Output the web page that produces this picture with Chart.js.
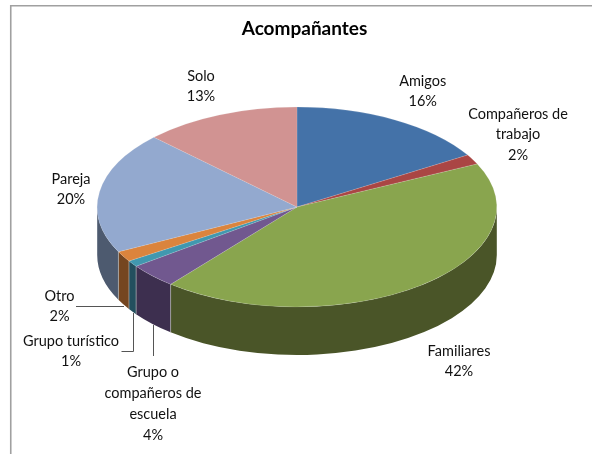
<!DOCTYPE html>
<html>
<head>
<meta charset="utf-8">
<style>html,body{margin:0;padding:0;background:#fff;overflow:hidden}canvas{display:block}</style>
<script src="https://cdn.jsdelivr.net/npm/chart.js@4"></script>
</head>
<body>
<canvas id="c" width="592" height="454"></canvas>
<script>
const chartTitle = 'Acompañantes';
const categories = ['Amigos', 'Compañeros de trabajo', 'Familiares', 'Grupo o compañeros de escuela', 'Grupo turístico', 'Otro', 'Pareja', 'Solo'];
const sliceValues = [16.3, 1.6, 43.0, 4.0, 1.0, 1.7, 19.7, 12.7];
const percentLabels = ['16%', '2%', '42%', '4%', '1%', '2%', '20%', '13%'];
const topColors = ['#4472A8', '#AA4644', '#89A54E', '#71588F', '#4198AF', '#DB843D', '#93A9CF', '#D19392'];
const sideColors = ['#2E4D72', '#732F2E', '#4A5528', '#3D2F4F', '#234F5E', '#754620', '#4D5A6F', '#8E6362'];

const labelLayout = [
  {x: 422.7, y: 81, lines: ['Amigos']},
  {x: 518, y: 114, lines: ['Compañeros de', 'trabajo']},
  {x: 459, y: 351, lines: ['Familiares']},
  {x: 153, y: 372.7, lines: ['Grupo o', 'compañeros de', 'escuela']},
  {x: 71, y: 341, lines: ['Grupo turístico']},
  {x: 59.5, y: 296, lines: ['Otro']},
  {x: 71, y: 179, lines: ['Pareja']},
  {x: 201, y: 76, lines: ['Solo']}
];
const leaderLines = [
  [[76, 306.5], [124, 306.5]],
  [[121.5, 351.5], [133.5, 351.5], [133.5, 313]],
  [[153.5, 325], [153.5, 356]]
];
const squash = 0.5, depth = 48, lineHeight = 20.8;

const pie3d = {
  id: 'pie3d',
  beforeDraw(chart) {
    const c = chart.ctx;
    c.save();
    c.strokeStyle = '#A0A0A0';
    c.lineWidth = 1.6;
    c.beginPath();
    c.moveTo(10.75, 454); c.lineTo(10.75, 5.75); c.lineTo(592, 5.75);
    c.stroke();
    c.restore();
  },
  beforeDatasetsDraw(chart) {
    const c = chart.ctx;
    const arcs = chart.getDatasetMeta(0).data;
    arcs.forEach((a, i) => {
      const s = Math.max(a.startAngle, 0), e = Math.min(a.endAngle, Math.PI);
      if (e <= s) return;
      const ry = a.outerRadius * squash;
      c.beginPath();
      c.ellipse(a.x, a.y, a.outerRadius, ry, 0, s, e);
      c.ellipse(a.x, a.y + depth, a.outerRadius, ry, 0, e, s, true);
      c.closePath();
      c.fillStyle = sideColors[i];
      c.fill();
      if (a.startAngle > 0 && a.startAngle < Math.PI) {
        const px = a.x + a.outerRadius * Math.cos(a.startAngle);
        const py = a.y + ry * Math.sin(a.startAngle);
        c.beginPath();
        c.moveTo(px, py); c.lineTo(px, py + depth);
        c.strokeStyle = 'rgba(190,190,190,0.6)';
        c.lineWidth = 1;
        c.stroke();
      }
    });
    const cx = chart.chartArea.left + chart.chartArea.width / 2;
    const cy = chart.chartArea.top + chart.chartArea.height / 2;
    c.save();
    c.translate(cx, cy); c.scale(1, squash); c.translate(-cx, -cy);
  },
  afterDatasetsDraw(chart) {
    const c = chart.ctx;
    c.restore();
    c.save();
    c.strokeStyle = '#555555';
    c.lineWidth = 1;
    leaderLines.forEach(pts => {
      c.beginPath();
      pts.forEach((p, i) => i ? c.lineTo(p[0], p[1]) : c.moveTo(p[0], p[1]));
      c.stroke();
    });
    c.textAlign = 'center';
    c.textBaseline = 'middle';
    c.fillStyle = '#111111';
    c.font = '14.5px Lato';
    labelLayout.forEach((l, i) => {
      const rows = l.lines.concat(percentLabels[i]);
      rows.forEach((t, k) => c.fillText(t, l.x, l.y + k * lineHeight));
    });
    c.fillStyle = '#000';
    c.font = 'bold 19px Lato';
    c.fillText(chartTitle, 304.5, 29);
    c.restore();
  }
};

new Chart(document.getElementById('c'), {
  type: 'pie',
  data: {
    labels: categories,
    datasets: [{data: sliceValues, backgroundColor: topColors, borderWidth: 0.4, borderColor: 'rgba(235,235,235,0.5)'}]
  },
  options: {
    responsive: false,
    animation: false,
    layout: {padding: {left: 97, right: 95, top: 7, bottom: 47}},
    plugins: {legend: {display: false}, tooltip: {enabled: false}, title: {display: false}}
  },
  plugins: [pie3d]
});
</script>
</body>
</html>
